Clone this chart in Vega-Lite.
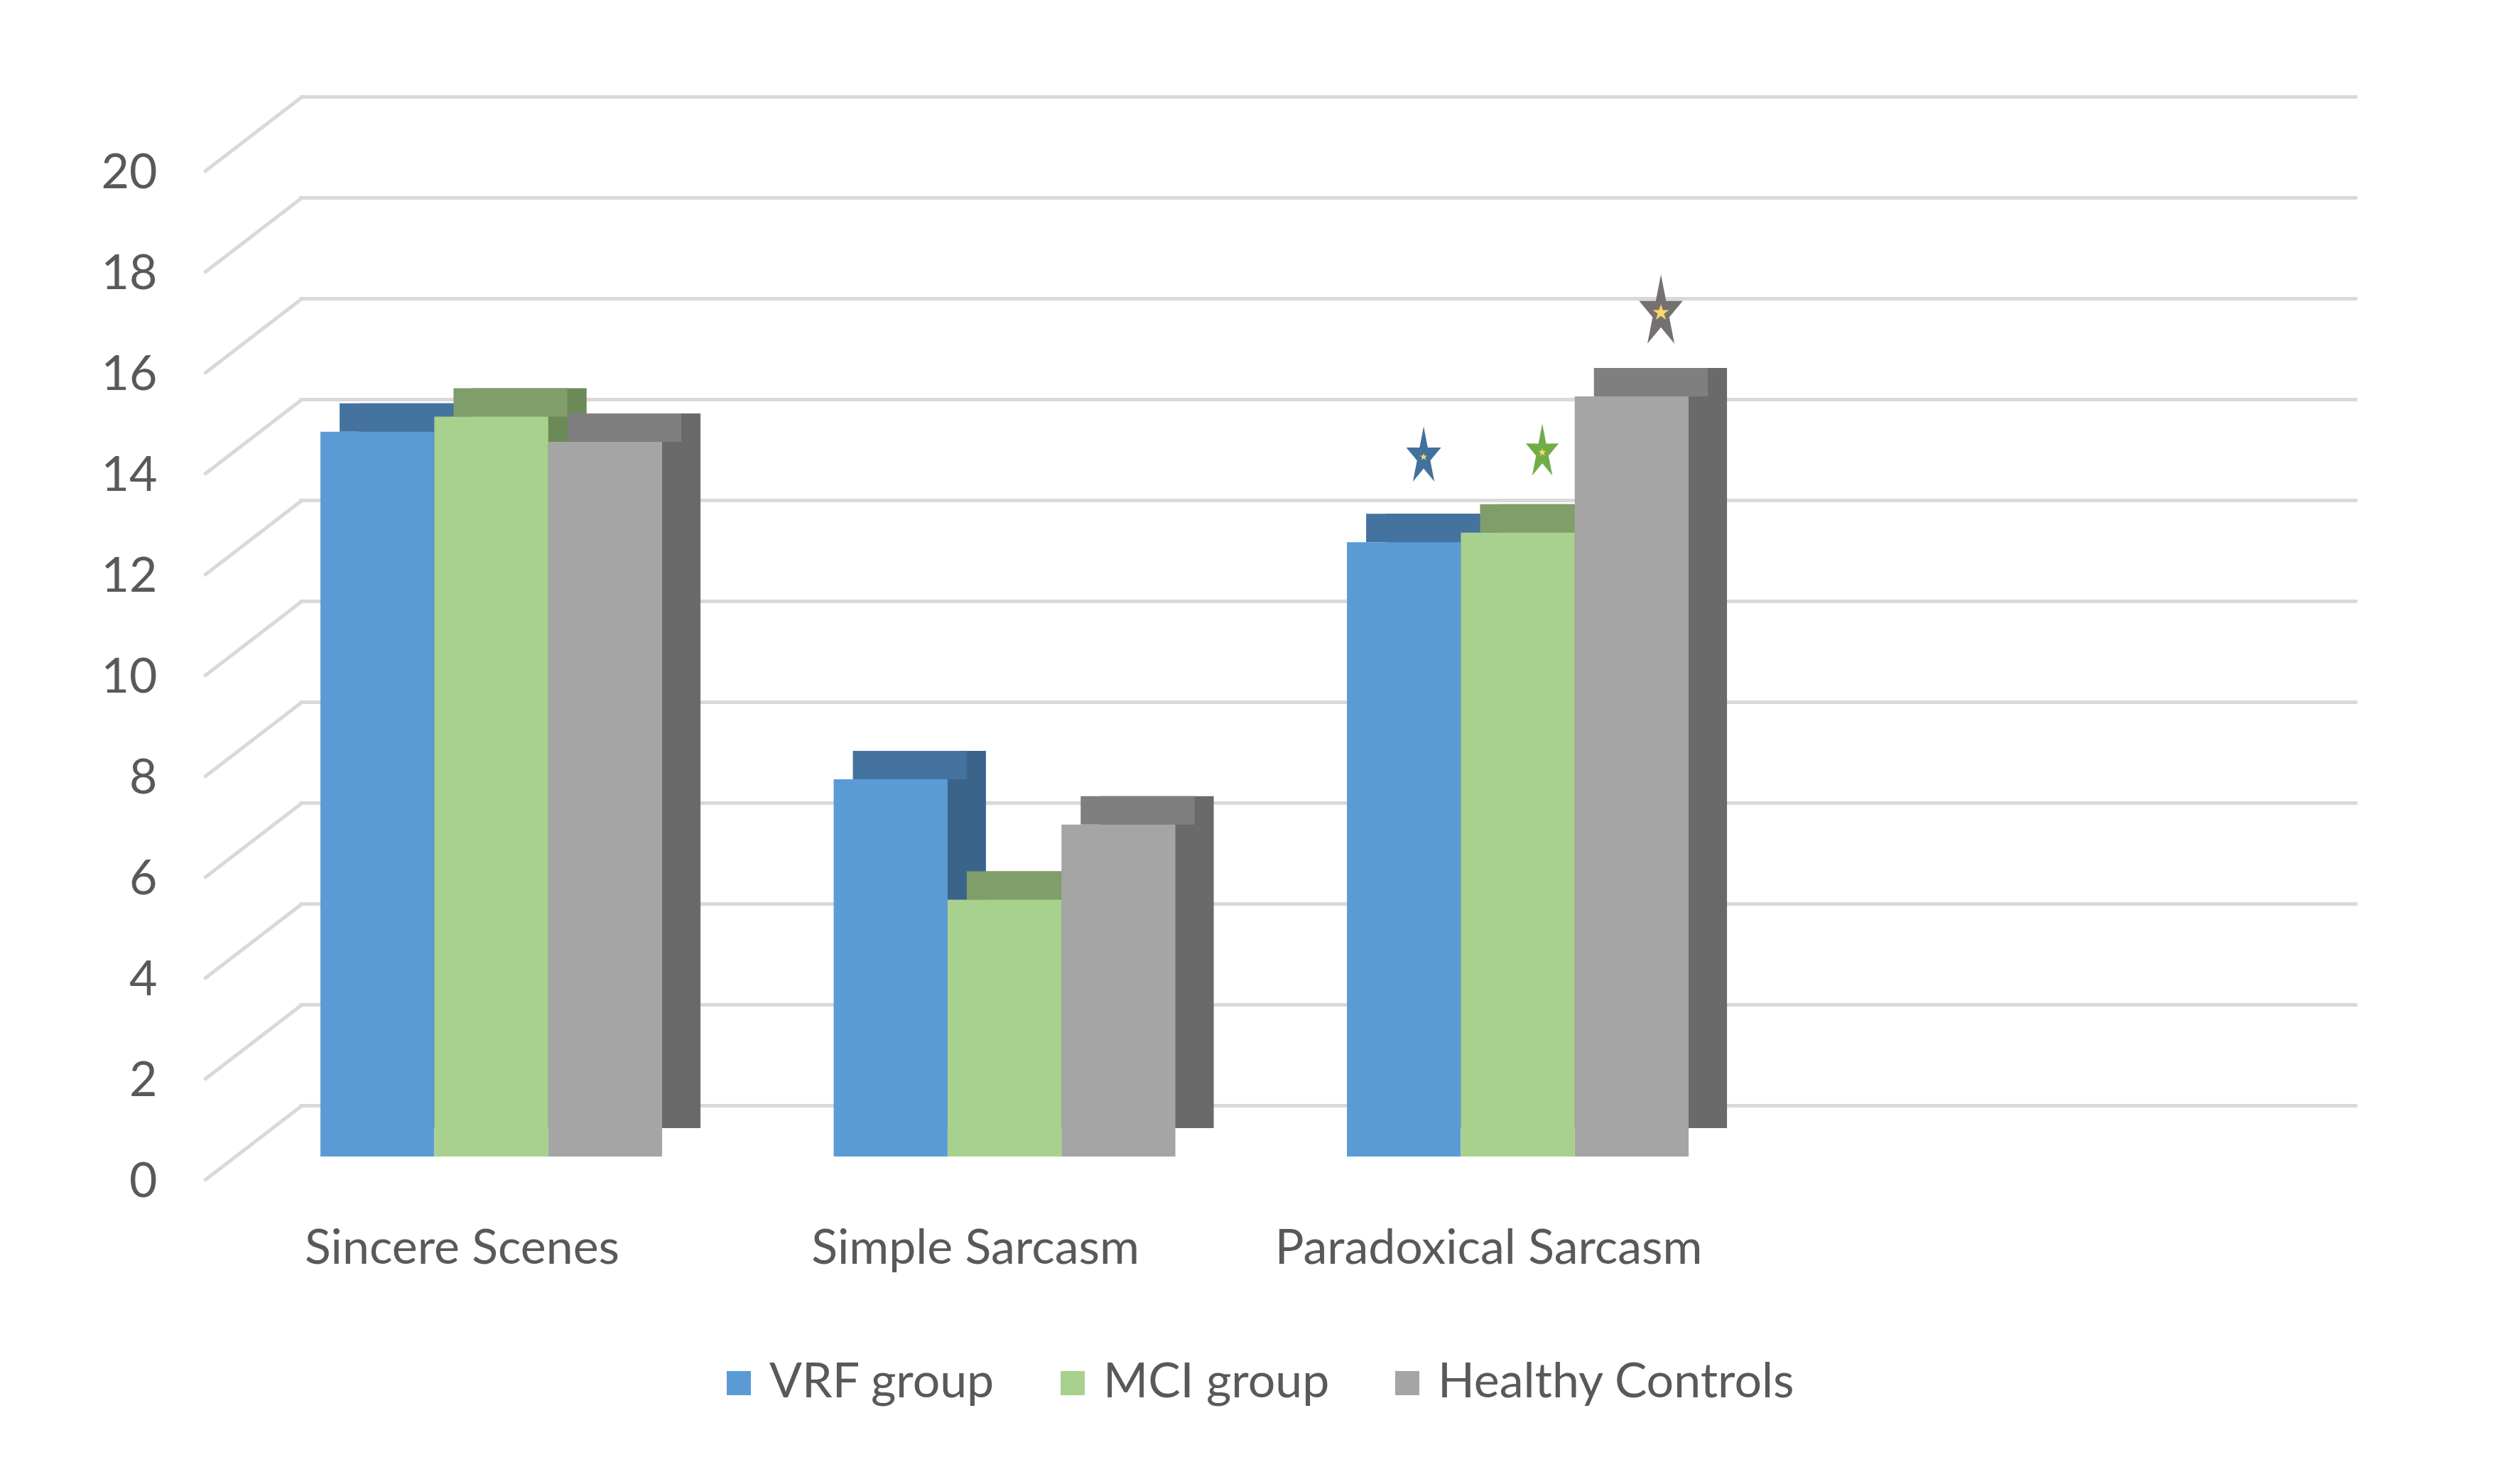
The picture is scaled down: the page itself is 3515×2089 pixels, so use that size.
{
  "$schema": "https://vega.github.io/schema/vega-lite/v6.json",
  "width": 2897,
  "height": 1420,
  "autosize": {"type": "none"},
  "padding": {"left": 421, "top": 208, "right": 197, "bottom": 461},
  "background": "white",
  "config": {
    "view": {"stroke": null},
    "font": "Lato"
  },
  "datasets": {
    "bars": [
      {"cat": "Sincere Scenes", "group": "VRF group", "value": 14.37},
      {"cat": "Sincere Scenes", "group": "MCI group", "value": 14.67},
      {"cat": "Sincere Scenes", "group": "Healthy Controls", "value": 14.17},
      {"cat": "Simple Sarcasm", "group": "VRF group", "value": 7.48},
      {"cat": "Simple Sarcasm", "group": "MCI group", "value": 5.09},
      {"cat": "Simple Sarcasm", "group": "Healthy Controls", "value": 6.58},
      {"cat": "Paradoxical Sarcasm", "group": "VRF group", "value": 12.18},
      {"cat": "Paradoxical Sarcasm", "group": "MCI group", "value": 12.37},
      {"cat": "Paradoxical Sarcasm", "group": "Healthy Controls", "value": 15.07}
    ],
    "stars": [
      {"cat": "Paradoxical Sarcasm", "group": "VRF group", "value": 13.87},
      {"cat": "Paradoxical Sarcasm", "group": "MCI group", "value": 13.96},
      {"cat": "Paradoxical Sarcasm", "group": "Healthy Controls", "value": 16.73}
    ],
    "walls": [
      {"value": 0}, {"value": 2}, {"value": 4}, {"value": 6}, {"value": 8}, {"value": 10},
      {"value": 12}, {"value": 14}, {"value": 16}, {"value": 18}, {"value": 20}
    ]
  },
  "encoding": {
    "x": {
      "field": "cat",
      "type": "nominal",
      "sort": null,
      "scale": {
        "domain": ["Sincere Scenes", "Simple Sarcasm", "Paradoxical Sarcasm", "_"],
        "paddingInner": 0.3343,
        "paddingOuter": 0.172,
        "align": 0.121
      },
      "axis": {
        "title": null,
        "domain": false,
        "ticks": false,
        "grid": false,
        "labelAngle": 0,
        "labelFont": "Lato",
        "labelFontSize": 68,
        "labelColor": "#595959",
        "labelBaseline": "middle",
        "labelPadding": 130,
        "labelOffset": -41,
        "labelLimit": 2000,
        "labelExpr": "datum.value == '_' ? '' : datum.value"
      }
    },
    "y": {
      "field": "value",
      "type": "quantitative",
      "scale": {"domain": [0, 20], "nice": false, "zero": true},
      "axis": {
        "title": null,
        "values": [0, 2, 4, 6, 8, 10, 12, 14, 16, 18, 20],
        "domain": false,
        "ticks": false,
        "tickSize": 0,
        "grid": true,
        "gridColor": "#D9D9D9",
        "gridWidth": 5,
        "tickOffset": -72,
        "labelOffset": 108,
        "labelPadding": 200,
        "labelFont": "Lato",
        "labelFontSize": 68,
        "labelColor": "#595959"
      }
    }
  },
  "layer": [
    {
      "data": {"name": "walls"},
      "mark": {
        "type": "rule",
        "color": "#D9D9D9",
        "strokeWidth": 5,
        "xOffset": -404,
        "x2Offset": -266,
        "yOffset": 34,
        "y2Offset": -72
      },
      "encoding": {
        "x": {"datum": "Sincere Scenes"},
        "x2": {"datum": "Sincere Scenes"},
        "y2": {"field": "value"}
      }
    },
    {
      "data": {"name": "bars"},
      "mark": {"type": "bar", "yOffset": -40, "y2Offset": -40},
      "encoding": {
        "xOffset": {
          "field": "group",
          "type": "nominal",
          "sort": null,
          "scale": {
            "domain": ["VRF group", "MCI group", "Healthy Controls"],
            "range": [54, 535],
            "paddingInner": 0,
            "paddingOuter": 0
          }
        },
        "color": {
          "field": "group",
          "type": "nominal",
          "scale": {
            "domain": ["VRF group", "MCI group", "Healthy Controls"],
            "range": ["#3A6489", "#6C8A58", "#6A6A6A"]
          },
          "legend": null
        }
      }
    },
    {
      "data": {"name": "bars"},
      "mark": {"type": "bar", "yOffset": -40, "y2Offset": 0},
      "encoding": {
        "xOffset": {
          "field": "group",
          "type": "nominal",
          "sort": null,
          "scale": {
            "domain": ["VRF group", "MCI group", "Healthy Controls"],
            "range": [27, 508],
            "paddingInner": 0,
            "paddingOuter": 0
          }
        },
        "y2": {"field": "value"},
        "color": {
          "field": "group",
          "type": "nominal",
          "scale": {
            "domain": ["VRF group", "MCI group", "Healthy Controls"],
            "range": ["#44739F", "#809E69", "#7F7F7F"]
          },
          "legend": null
        }
      }
    },
    {
      "data": {"name": "bars"},
      "mark": {"type": "bar"},
      "encoding": {
        "xOffset": {
          "field": "group",
          "type": "nominal",
          "sort": null,
          "scale": {
            "domain": ["VRF group", "MCI group", "Healthy Controls"],
            "range": [0, 481],
            "paddingInner": 0,
            "paddingOuter": 0
          }
        },
        "color": {
          "field": "group",
          "type": "nominal",
          "scale": {
            "domain": ["VRF group", "MCI group", "Healthy Controls"],
            "range": ["#5B9BD5", "#A9D18E", "#A5A5A5"]
          },
          "legend": {
            "title": null,
            "orient": "none",
            "legendX": 585,
            "legendY": 1705,
            "direction": "horizontal",
            "symbolType": "square",
            "symbolSize": 1156,
            "symbolStrokeWidth": 0,
            "labelFont": "Lato",
            "labelFontSize": 68,
            "labelColor": "#595959",
            "labelOffset": 9,
            "columnPadding": 75,
            "labelLimit": 1000
          }
        }
      }
    },
    {
      "data": {"name": "stars"},
      "mark": {
        "type": "point",
        "filled": true,
        "opacity": 1,
        "shape": "M0,-1L0.134,-0.307L0.571,-0.309L0.217,0.117L0.353,0.809L0,0.38L-0.353,0.809L-0.217,0.117L-0.571,-0.309L-0.134,-0.307Z"
      },
      "encoding": {
        "xOffset": {
          "field": "group",
          "type": "nominal",
          "sort": null,
          "scale": {
            "domain": ["VRF group", "MCI group", "Healthy Controls"],
            "range": [108, 442],
            "paddingInner": 0,
            "paddingOuter": 0
          }
        },
        "color": {
          "field": "group",
          "type": "nominal",
          "scale": {
            "domain": ["VRF group", "MCI group", "Healthy Controls"],
            "range": ["#41719C", "#70AD47", "#767171"]
          },
          "legend": null
        },
        "size": {
          "field": "group",
          "type": "nominal",
          "scale": {
            "type": "ordinal",
            "domain": ["VRF group", "MCI group", "Healthy Controls"],
            "range": [7400, 6560, 11660]
          },
          "legend": null
        }
      }
    },
    {
      "data": {"name": "stars"},
      "mark": {
        "type": "point",
        "filled": true,
        "opacity": 1,
        "color": "#FFD966",
        "shape": "M0,-1L0.223,-0.307L0.951,-0.309L0.361,0.117L0.588,0.809L0,0.38L-0.588,0.809L-0.361,0.117L-0.951,-0.309L-0.223,-0.307Z"
      },
      "encoding": {
        "xOffset": {
          "field": "group",
          "type": "nominal",
          "sort": null,
          "scale": {
            "domain": ["VRF group", "MCI group", "Healthy Controls"],
            "range": [108, 442],
            "paddingInner": 0,
            "paddingOuter": 0
          }
        },
        "size": {
          "field": "group",
          "type": "nominal",
          "scale": {
            "type": "ordinal",
            "domain": ["VRF group", "MCI group", "Healthy Controls"],
            "range": [120, 140, 576]
          },
          "legend": null
        }
      }
    }
  ],
  "resolve": {"scale": {"color": "independent", "size": "independent", "xOffset": "independent"}}
}
